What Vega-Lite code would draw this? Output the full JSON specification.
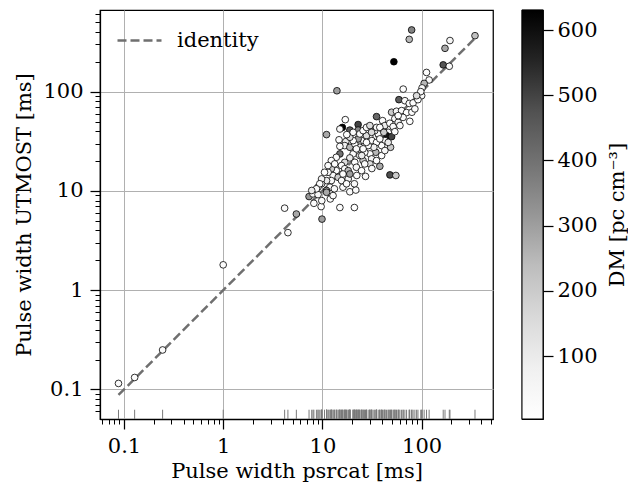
{
 "$schema": "https://vega.github.io/schema/vega-lite/v6.json",
 "padding": {"left": 13, "top": 2, "right": 0, "bottom": 0},
 "background": "white",
 "config": {
  "font": "DejaVu Serif",
  "view": {"stroke": "black", "strokeWidth": 1.25},
  "axis": {"labelFont": "DejaVu Serif", "titleFont": "DejaVu Serif", "labelFontSize": 21, "titleFontSize": 21, "titleFontWeight": "normal", "labelColor": "black", "titleColor": "black", "domainColor": "black", "tickColor": "black", "domainWidth": 1.25},
  "legend": {"labelFont": "DejaVu Serif", "labelFontSize": 21, "labelColor": "black"}
 },
 "datasets": {
  "pts": [
   {"p":0.088,"u":0.115,"dm":30},{"p":0.128,"u":0.132,"dm":20},{"p":0.245,"u":0.25,"dm":25},{"p":1.0,"u":1.8,"dm":20},
   {"p":4.16,"u":6.7,"dm":30},{"p":4.49,"u":3.8,"dm":15},{"p":5.46,"u":5.85,"dm":280},{"p":7.33,"u":8.77,"dm":320},
   {"p":8.03,"u":9.33,"dm":30},{"p":9.03,"u":9.18,"dm":40},{"p":8.2,"u":7.5,"dm":20},{"p":9.7,"u":6.95,"dm":10},
   {"p":9.9,"u":5.2,"dm":300},{"p":15,"u":6.8,"dm":10},{"p":21,"u":6.8,"dm":10},{"p":18.9,"u":9.8,"dm":30},
   {"p":21.7,"u":10.2,"dm":20},{"p":21,"u":11.8,"dm":30},
   {"p":79.3,"u":418,"dm":360},{"p":75,"u":336,"dm":250},{"p":52.5,"u":200,"dm":630},{"p":193,"u":327,"dm":50},
   {"p":172,"u":273,"dm":280},{"p":345,"u":366,"dm":230},{"p":165,"u":186,"dm":470},{"p":190,"u":180,"dm":30},
   {"p":112,"u":156,"dm":20},{"p":119,"u":131,"dm":30},{"p":106,"u":121,"dm":250},{"p":101,"u":109,"dm":30},
   {"p":100,"u":91,"dm":20},{"p":98,"u":100,"dm":40},{"p":65.2,"u":106,"dm":10},{"p":59,"u":83,"dm":450},
   {"p":67.8,"u":81,"dm":30},{"p":75,"u":76,"dm":10},{"p":82,"u":77,"dm":20},{"p":14,"u":102,"dm":300},
   {"p":49.8,"u":62,"dm":200},{"p":55.8,"u":63.4,"dm":40},{"p":62.8,"u":64.4,"dm":20},{"p":70.5,"u":61.5,"dm":10},
   {"p":35.1,"u":56,"dm":420},{"p":65,"u":55,"dm":30},{"p":76,"u":50.2,"dm":10},{"p":17,"u":52.2,"dm":10},
   {"p":15.9,"u":43.6,"dm":630},{"p":15,"u":42,"dm":30},{"p":18.9,"u":41,"dm":450},{"p":22.9,"u":46.6,"dm":500},
   {"p":22.9,"u":41,"dm":350},{"p":40.4,"u":51,"dm":20},{"p":42.6,"u":45.5,"dm":100},{"p":47.8,"u":48,"dm":10},
   {"p":51.6,"u":44.5,"dm":30},{"p":46,"u":38.9,"dm":20},{"p":44.3,"u":36,"dm":600},{"p":49.8,"u":35.2,"dm":500},
   {"p":48.6,"u":27.5,"dm":200},{"p":11,"u":36.9,"dm":280},{"p":14.7,"u":32.7,"dm":20},{"p":17.2,"u":31.4,"dm":100},
   {"p":16.8,"u":28.6,"dm":80},{"p":15,"u":28.1,"dm":20},{"p":15,"u":23.6,"dm":400},{"p":37.9,"u":17.7,"dm":280},
   {"p":27.2,"u":14,"dm":30},{"p":47.9,"u":14.5,"dm":480},{"p":55,"u":14.3,"dm":200},
   {"p":39.5,"u":37.8,"dm":30},{"p":36.5,"u":37.5,"dm":10},{"p":33.7,"u":40.5,"dm":20},{"p":35.1,"u":43.6,"dm":40},
   {"p":30.1,"u":34.7,"dm":10},{"p":27.8,"u":36,"dm":150},{"p":24.8,"u":32.1,"dm":30},{"p":22.9,"u":29.7,"dm":200},
   {"p":23.8,"u":27.5,"dm":20},{"p":34.5,"u":24.5,"dm":250},{"p":30.1,"u":23.6,"dm":20},{"p":31.3,"u":21,"dm":60},
   {"p":30.1,"u":18.7,"dm":150},{"p":26.7,"u":24.5,"dm":10},{"p":23.8,"u":22.7,"dm":30},{"p":25.7,"u":20.2,"dm":200},
   {"p":20.4,"u":23.6,"dm":20},{"p":18.9,"u":21.5,"dm":100},{"p":21.2,"u":19.4,"dm":10},{"p":22,"u":17.3,"dm":40},
   {"p":16.8,"u":19.4,"dm":150},{"p":15.6,"u":18,"dm":20},{"p":16.8,"u":16.7,"dm":30},{"p":18.2,"u":16,"dm":250},
   {"p":13.8,"u":16,"dm":10},{"p":12.8,"u":14.3,"dm":30},{"p":14.4,"u":13.7,"dm":200},{"p":12.3,"u":12.7,"dm":20},
   {"p":11,"u":12.7,"dm":100},{"p":9.8,"u":11.8,"dm":20},{"p":9.03,"u":10.9,"dm":10},{"p":11.9,"u":10.9,"dm":30},
   {"p":11,"u":10.1,"dm":300},{"p":12.3,"u":9.33,"dm":20},{"p":12,"u":8.3,"dm":10},{"p":15.6,"u":12.7,"dm":30},
   {"p":16.1,"u":10.9,"dm":20},{"p":18.2,"u":13.2,"dm":60},{"p":17.5,"u":11.8,"dm":10},{"p":18.9,"u":27.5,"dm":250},
   {"p":21.2,"u":29.7,"dm":20},{"p":22.9,"u":33.4,"dm":300},{"p":23.8,"u":37.5,"dm":30},{"p":25.7,"u":40.5,"dm":10},
   {"p":27.8,"u":43.6,"dm":20},{"p":30.1,"u":45.5,"dm":150},{"p":12.3,"u":16.7,"dm":200},{"p":11.4,"u":15.4,"dm":40},
   {"p":9.8,"u":13.2,"dm":60},{"p":9.4,"u":11.8,"dm":20},{"p":42.6,"u":32.1,"dm":20},{"p":39.5,"u":28.6,"dm":10},
   {"p":53.7,"u":53.5,"dm":30},{"p":58,"u":49.1,"dm":60},{"p":11,"u":9.68,"dm":280},{"p":12.8,"u":8.97,"dm":20},
   {"p":13.2,"u":10.5,"dm":30},
   {"p":31.5,"u":32.1,"dm":30},{"p":35.1,"u":30.8,"dm":10},{"p":37.9,"u":33.4,"dm":20},{"p":33,"u":27.5,"dm":80},
   {"p":28.9,"u":28.6,"dm":20},{"p":25.7,"u":26.5,"dm":10},{"p":22,"u":26.5,"dm":30},{"p":27.8,"u":30.8,"dm":20},
   {"p":31.3,"u":38.9,"dm":150},{"p":37.9,"u":43.6,"dm":10},{"p":41.6,"u":38.9,"dm":200},{"p":53.7,"u":39.5,"dm":20},
   {"p":60.4,"u":45.5,"dm":30},{"p":58,"u":57.3,"dm":10},{"p":79.8,"u":62,"dm":20},{"p":85.5,"u":67,"dm":30},
   {"p":91.8,"u":83,"dm":10},{"p":89,"u":91,"dm":150},{"p":20.4,"u":32.1,"dm":10},{"p":18.9,"u":34.7,"dm":150},
   {"p":20.4,"u":38.9,"dm":30},{"p":17.6,"u":36.9,"dm":20},{"p":24.9,"u":22.7,"dm":100},{"p":31.5,"u":16.8,"dm":30},
   {"p":35.1,"u":20.2,"dm":20},{"p":39.5,"u":22.7,"dm":10},{"p":42.6,"u":25.5,"dm":30},{"p":46,"u":30.8,"dm":100},
   {"p":13.8,"u":21.8,"dm":30},{"p":12.3,"u":20.2,"dm":10},{"p":13.3,"u":18.7,"dm":20},{"p":11.4,"u":18,"dm":30},
   {"p":10.5,"u":15.4,"dm":10},{"p":16.1,"u":14.8,"dm":20},{"p":18.9,"u":14.8,"dm":300},{"p":22.2,"u":14.3,"dm":20},
   {"p":24.8,"u":16,"dm":10},{"p":26.7,"u":18.7,"dm":30},{"p":8.7,"u":10.5,"dm":20},{"p":7.8,"u":10.1,"dm":100},
   {"p":9.85,"u":7.98,"dm":30}
  ]
 },
 "hconcat": [
  {
   "width": 393,
   "height": 409,
   "layer": [
    {
     "data": {"name": "pts"},
     "mark": {"type": "rule", "color": "#7a7a7a", "strokeWidth": 1},
     "encoding": {
      "x": {"field": "p", "type": "quantitative",
            "scale": {"type": "log", "domain": [0.0573, 524], "nice": false},
            "axis": {"title": "Pulse width psrcat [ms]",
                     "values": [0.06,0.07,0.08,0.09,0.1,0.2,0.3,0.4,0.5,0.6,0.7,0.8,0.9,1,2,3,4,5,6,7,8,9,10,20,30,40,50,60,70,80,90,100,200,300,400,500],
                     "labelExpr": "abs(log(datum.value)/LN10 - round(log(datum.value)/LN10)) < 0.001 ? format(datum.value, '~g') : ''",
                     "tickSize": {"condition": {"test": "abs(log(datum.value)/LN10 - round(log(datum.value)/LN10)) < 0.001", "value": 10}, "value": 5},
                     "tickWidth": {"condition": {"test": "abs(log(datum.value)/LN10 - round(log(datum.value)/LN10)) < 0.001", "value": 1.25}, "value": 1},
                     "grid": true, "gridColor": "#b0b0b0", "gridWidth": 1,
                     "gridOpacity": {"condition": {"test": "abs(log(datum.value)/LN10 - round(log(datum.value)/LN10)) < 0.001", "value": 1}, "value": 0},
                     "labelPadding": 6, "labelOverlap": false, "labelFlush": false, "titlePadding": 4}},
      "y": {"datum": 0.0504, "type": "quantitative",
            "scale": {"type": "log", "domain": [0.0504, 664], "nice": false},
            "axis": {"title": "Pulse width UTMOST [ms]",
                     "values": [0.06,0.07,0.08,0.09,0.1,0.2,0.3,0.4,0.5,0.6,0.7,0.8,0.9,1,2,3,4,5,6,7,8,9,10,20,30,40,50,60,70,80,90,100,200,300,400,500,600],
                     "labelExpr": "abs(log(datum.value)/LN10 - round(log(datum.value)/LN10)) < 0.001 ? format(datum.value, '~g') : ''",
                     "tickSize": {"condition": {"test": "abs(log(datum.value)/LN10 - round(log(datum.value)/LN10)) < 0.001", "value": 10}, "value": 5},
                     "tickWidth": {"condition": {"test": "abs(log(datum.value)/LN10 - round(log(datum.value)/LN10)) < 0.001", "value": 1.25}, "value": 1},
                     "grid": true, "gridColor": "#b0b0b0", "gridWidth": 1,
                     "gridOpacity": {"condition": {"test": "abs(log(datum.value)/LN10 - round(log(datum.value)/LN10)) < 0.001", "value": 1}, "value": 0},
                     "labelPadding": 7, "labelOverlap": false, "labelFlush": false, "titlePadding": 8}},
      "y2": {"datum": 0.0625}
     }
    },
    {
     "data": {"values": [{"p": 0.088, "u": 0.088, "s": "identity"}, {"p": 345, "u": 345, "s": "identity"}]},
     "mark": {"type": "line", "color": "#6f6f6f", "strokeWidth": 2.5},
     "encoding": {
      "x": {"field": "p", "type": "quantitative", "axis": {"title": "Pulse width psrcat [ms]"}},
      "y": {"field": "u", "type": "quantitative", "axis": {"title": "Pulse width UTMOST [ms]"}},
      "strokeDash": {"field": "s", "type": "nominal", "scale": {"range": [[9, 4]]},
                     "legend": {"title": null, "orient": "none", "legendX": 16, "legendY": 7, "padding": 0,
                                "symbolType": "stroke", "symbolSize": 1936, "symbolStrokeWidth": 2.5,
                                "symbolStrokeColor": "#6f6f6f", "labelFontSize": 21, "labelOffset": 14}}
     }
    },
    {
     "data": {"name": "pts"},
     "mark": {"type": "circle", "size": 45, "stroke": "black", "strokeWidth": 0.8, "opacity": 1},
     "encoding": {
      "x": {"field": "p", "type": "quantitative", "axis": {"title": "Pulse width psrcat [ms]"}},
      "y": {"field": "u", "type": "quantitative", "axis": {"title": "Pulse width UTMOST [ms]"}},
      "fill": {"field": "dm", "type": "quantitative",
               "scale": {"domain": [3.4, 81.8, 160.2, 238.6, 317.05, 395.5, 473.9, 552.3, 630.7],
                         "range": ["#ffffff", "#f0f0f0", "#d9d9d9", "#bdbdbd", "#969696", "#737373", "#525252", "#252525", "#000000"]},
               "legend": null}
     }
    }
   ]
  },
  {
   "width": 21,
   "height": 409,
   "data": {"values": [{"lo": 3.4, "hi": 630.7}]},
   "mark": {"type": "rect", "stroke": "black", "strokeWidth": 1,
            "fill": {"gradient": "linear", "x1": 0, "y1": 1, "x2": 0, "y2": 0,
                     "stops": [{"offset": 0, "color": "#ffffff"}, {"offset": 0.125, "color": "#f0f0f0"}, {"offset": 0.25, "color": "#d9d9d9"}, {"offset": 0.375, "color": "#bdbdbd"}, {"offset": 0.5, "color": "#969696"}, {"offset": 0.625, "color": "#737373"}, {"offset": 0.75, "color": "#525252"}, {"offset": 0.875, "color": "#252525"}, {"offset": 1, "color": "#000000"}]}},
   "encoding": {
    "y": {"field": "lo", "type": "quantitative",
          "scale": {"domain": [3.4, 630.7], "nice": false, "zero": false},
          "axis": {"orient": "right", "values": [100, 200, 300, 400, 500, 600], "title": "DM [pc cm⁻³]",
                   "titleAngle": 270, "tickSize": 10, "tickWidth": 1.25, "labelPadding": 4, "grid": false, "domain": false, "titlePadding": 30}},
    "y2": {"field": "hi"}
   }
  }
 ],
 "spacing": 26,
 "resolve": {"scale": {"y": "independent", "x": "independent"}}
}
